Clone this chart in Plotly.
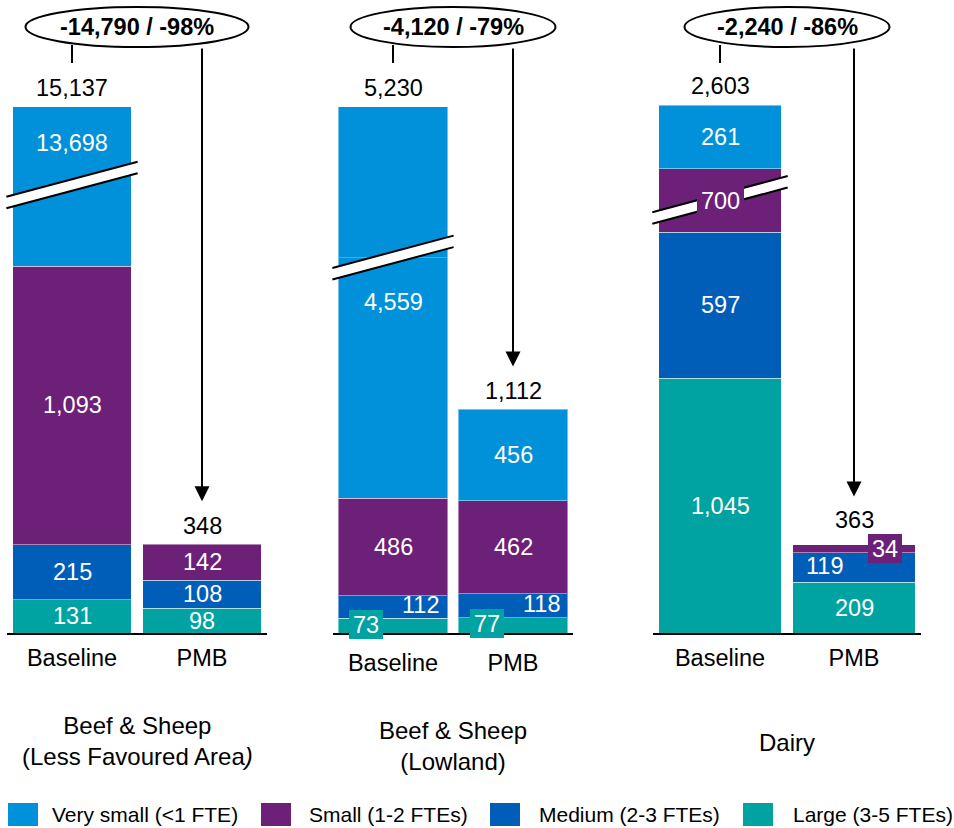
import plotly.graph_objects as go

# ---------------------------------------------------------------- data
categories = ["Baseline", "PMB"]
panel_titles = [
    "Beef & Sheep<br>(Less Favoured Area<i>)</i>",
    "Beef & Sheep<br>(Lowland)",
    "Dairy",
]
series_names = ["Very small (<1 FTE)", "Small (1-2 FTEs)", "Medium (2-3 FTEs)", "Large (3-5 FTEs)"]
series_colors = ["#0091DA", "#6D2077", "#005EB8", "#00A3A1"]

# number of farms per size band, per panel: [Baseline, PMB]
very_small = [[13698, None], [4559, 456], [261, None]]
small = [[1093, 142], [486, 462], [700, 34]]
medium = [[215, 108], [112, 118], [597, 119]]
large = [[131, 98], [73, 77], [1045, 209]]
totals = [[15137, 348], [5230, 1112], [2603, 363]]
changes = ["-14,790 / -98%", "-4,120 / -79%", "-2,240 / -86%"]

# ---------------------------------------------------------------- layout constants
W, H = 954, 828
FONT = "Liberation Sans, Arial, sans-serif"
FS = 23.5
FS_TITLE = 24

PANEL_PX = [(7, 267), (333, 573), (653, 921)]   # horizontal extent of each panel
BASE_PX = 633                                     # pixel row of the zero line
PX_PER_UNIT = [0.255, 0.201, 0.244]               # vertical scale of each panel
LOWER_MAX = [1757, 1868, 1775]                    # axis break: lower part ends here
RESUME = [14830, 4480, 2215]                      # axis break: upper part starts here
BAND_HALF = 5.75                                  # half thickness of the break band
BAND_SLOPE = 0.267
BAND_HALF_LEN = 0.505                             # in category units
ELLIPSE_HALF_W = [111.5, 102.5, 102.5]
ELLIPSE_Y = (7, 47)
STUB_END = 63
ARROW_GAP = [43, 43, 48]
TOTAL_SHIFT = [[4, 3], [4, 3], [4, 9]]
TICK_STANDOFF = [3, 8, 3]
TITLE_Y = [740.5, 746, 742]
LEGEND_SQ_X = [8, 261, 490, 743]
LEGEND_TXT_X = [50, 307, 537, 791]
LEGEND_Y = (803, 826)

# per-label placement tweaks: (panel, bar, series index) -> options
LABEL_TWEAKS = {
    (0, 0, 0): dict(mode="upper"),
    (1, 0, 2): dict(dx=27, dy=-2),
    (1, 0, 3): dict(dx=-27.5, dy=-1.5, box=True),
    (1, 1, 2): dict(dx=28, dy=-2),
    (1, 1, 3): dict(dx=-26.5, dy=-1.5, box=True),
    (2, 0, 1): dict(box=True, bw=43, bh=26),
    (2, 1, 2): dict(dx=-30, dy=-1.5),
    (2, 1, 1): dict(dx=31, dy=0, box=True),
}


def px2x(px):
    return px / W


def py2y(py):
    return 1 - py / H


def seam_px(p):
    return BASE_PX - LOWER_MAX[p] * PX_PER_UNIT[p]


def value_px(p, v):
    s = PX_PER_UNIT[p]
    if v <= LOWER_MAX[p]:
        return BASE_PX - v * s
    if v >= RESUME[p]:
        return seam_px(p) - (v - RESUME[p]) * s
    return seam_px(p)


def cat_px(p, c):
    x0, x1 = PANEL_PX[p]
    return x0 + (x1 - x0) * (c + 0.5) / 2


fig = go.Figure()
layout = {}
series_values = [very_small, small, medium, large]
stack_order = [3, 2, 1, 0]  # bottom to top

for p in range(3):
    n = p + 1
    xa = "x" if p == 0 else f"x{n}"
    ya_lo = "y" if p == 0 else f"y{n}"
    ya_hi = f"y{n + 3}"
    x0, x1 = PANEL_PX[p]
    seam = seam_px(p)
    s = PX_PER_UNIT[p]

    layout["xaxis" if p == 0 else f"xaxis{n}"] = dict(
        domain=[px2x(x0), px2x(x1)], anchor=ya_lo, type="category",
        range=[-0.5, 1.5], showline=True, linecolor="black", linewidth=2,
        ticks="", showgrid=False, zeroline=False, fixedrange=True,
        tickfont=dict(family=FONT, size=FS, color="black"),
        ticklabelstandoff=TICK_STANDOFF[p],
    )
    layout["yaxis" if p == 0 else f"yaxis{n}"] = dict(
        domain=[py2y(BASE_PX), py2y(seam)], range=[0, LOWER_MAX[p]],
        anchor=xa, visible=False, fixedrange=True,
    )
    layout[f"yaxis{n + 3}"] = dict(
        domain=[py2y(seam), 1], range=[RESUME[p], RESUME[p] + seam / s],
        anchor=xa, visible=False, fixedrange=True,
    )

    for si in stack_order:
        for ya in (ya_lo, ya_hi):
            fig.add_trace(go.Bar(
                x=categories, y=series_values[si][p], xaxis=xa, yaxis=ya,
                marker=dict(color=series_colors[si],
                            line=dict(color="rgba(255,255,255,0.45)", width=1)),
                name=series_names[si], showlegend=False, hoverinfo="skip",
            ))

annotations = []
shapes = []

for p in range(3):
    n = p + 1
    xa = "x" if p == 0 else f"x{n}"
    ya_lo = "y" if p == 0 else f"y{n}"
    ya_hi = f"y{n + 3}"
    seam = seam_px(p)
    x0, x1 = PANEL_PX[p]
    unit_px = (x1 - x0) / 2

    # segment value labels
    for b in range(2):
        bottom = 0
        for si in stack_order:
            v = series_values[si][p][b]
            if v is None:
                continue
            top = bottom + v
            tw = LABEL_TWEAKS.get((p, b, si), {})
            if tw.get("mode") == "upper":
                cy = (value_px(p, top) + seam - BAND_HALF) / 2
                yref, yv = "paper", py2y(cy)
            elif top <= LOWER_MAX[p]:
                yref, yv = ya_lo, (bottom + top) / 2
            elif bottom >= RESUME[p]:
                yref, yv = ya_hi, (bottom + top) / 2
            else:
                cy = (value_px(p, bottom) + value_px(p, top)) / 2
                yref, yv = "paper", py2y(cy)
            ann = dict(
                x=b, y=yv, xref=xa, yref=yref, text=f"{v:,}", showarrow=False,
                font=dict(family=FONT, size=FS, color="white"),
                xshift=tw.get("dx", 0), yshift=-tw.get("dy", 0),
                xanchor="center", yanchor="middle",
            )
            if tw.get("box"):
                ann.update(bgcolor=series_colors[si], borderpad=2, borderwidth=0,
                           width=tw.get("bw", 30), height=tw.get("bh", 25))
            annotations.append(ann)
            bottom = top

        # total above each bar
        t = totals[p][b]
        annotations.append(dict(
            x=b, y=t, xref=xa, yref=ya_lo if t <= LOWER_MAX[p] else ya_hi,
            text=f"{t:,}", showarrow=False, xanchor="center", yanchor="bottom",
            yshift=TOTAL_SHIFT[p][b],
            font=dict(family=FONT, size=FS, color="black"),
        ))

    # axis break band across the baseline bar
    cx = cat_px(p, 0)
    xl, xr = cx - BAND_HALF_LEN * unit_px, cx + BAND_HALF_LEN * unit_px

    def yc(px):
        return seam - BAND_SLOPE * (px - cx)

    shapes.append(dict(
        type="path", xref="paper", yref="paper", layer="above",
        path=(f"M{px2x(xl)},{py2y(yc(xl) - BAND_HALF)} L{px2x(xr)},{py2y(yc(xr) - BAND_HALF)} "
              f"L{px2x(xr)},{py2y(yc(xr) + BAND_HALF)} L{px2x(xl)},{py2y(yc(xl) + BAND_HALF)} Z"),
        fillcolor="white", line=dict(width=0),
    ))
    for sgn in (-1, 1):
        shapes.append(dict(
            type="line", xref="paper", yref="paper", layer="above",
            x0=px2x(xl), y0=py2y(yc(xl) + sgn * BAND_HALF),
            x1=px2x(xr), y1=py2y(yc(xr) + sgn * BAND_HALF),
            line=dict(color="black", width=2),
        ))

    # change ellipse with connectors
    pc = (x0 + x1) / 2
    ey0, ey1 = ELLIPSE_Y
    shapes.append(dict(
        type="line", xref="paper", yref="paper", layer="above",
        x0=px2x(cx), x1=px2x(cx), y0=py2y(ey1 - 2), y1=py2y(STUB_END),
        line=dict(color="black", width=2),
    ))
    shapes.append(dict(
        type="circle", xref="paper", yref="paper", layer="above",
        x0=px2x(pc - ELLIPSE_HALF_W[p]), x1=px2x(pc + ELLIPSE_HALF_W[p]),
        y0=py2y(ey1), y1=py2y(ey0),
        line=dict(color="black", width=2), fillcolor="white",
    ))
    annotations.append(dict(
        x=px2x(pc), y=py2y((ey0 + ey1) / 2), xref="paper", yref="paper",
        text=f"<b>{changes[p]}</b>", showarrow=False,
        xanchor="center", yanchor="middle",
        font=dict(family=FONT, size=23.5, color="black"),
    ))
    tip = value_px(p, totals[p][1]) - ARROW_GAP[p]
    annotations.append(dict(
        x=1, y=py2y(tip), xref=xa, yref="paper", text="",
        showarrow=True, arrowhead=2, arrowsize=1.5, arrowwidth=2,
        arrowcolor="black", ax=0, ay=-(tip - ey1), standoff=0,
    ))

    # panel title
    annotations.append(dict(
        x=px2x(pc), y=py2y(TITLE_Y[p]), xref="paper", yref="paper",
        text=panel_titles[p], showarrow=False,
        xanchor="center", yanchor="middle",
        font=dict(family=FONT, size=FS_TITLE, color="black"),
    ))

# legend
for i, name in enumerate(series_names):
    shapes.append(dict(
        type="rect", xref="paper", yref="paper",
        x0=px2x(LEGEND_SQ_X[i]), x1=px2x(LEGEND_SQ_X[i] + 30),
        y0=py2y(LEGEND_Y[1]), y1=py2y(LEGEND_Y[0]),
        fillcolor=series_colors[i], line=dict(width=0),
    ))
    annotations.append(dict(
        x=px2x(LEGEND_TXT_X[i]), y=py2y(sum(LEGEND_Y) / 2), xref="paper", yref="paper",
        text=name, showarrow=False, xanchor="left", yanchor="middle",
        font=dict(family=FONT, size=21, color="black"),
    ))

fig.update_layout(
    width=W, height=H, margin=dict(l=0, r=0, t=0, b=0),
    paper_bgcolor="white", plot_bgcolor="rgba(0,0,0,0)",
    barmode="stack", bargap=0.087, showlegend=False,
    font=dict(family=FONT, size=FS, color="black"),
    annotations=annotations, shapes=shapes,
    **layout,
)

fig.write_html("out.html")
